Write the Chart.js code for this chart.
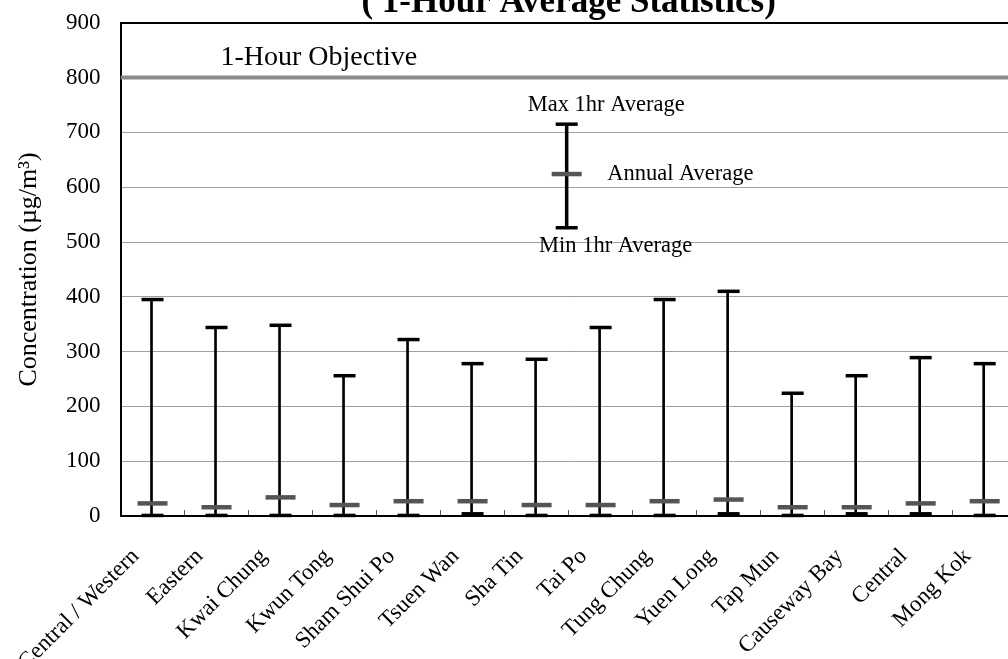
<!DOCTYPE html>
<html>
<head>
<meta charset="utf-8">
<title>1-Hour Average Statistics</title>
<style>
  html, body { margin: 0; padding: 0; width: 1008px; height: 659px; overflow: hidden; background: #fff; }
  #wrap { position: absolute; left: 0; top: -30px; width: 1040px; height: 720px; }
</style>
<script src="https://cdn.jsdelivr.net/npm/chart.js@4.4.1/dist/chart.umd.min.js"></script>
</head>
<body>
<div id="wrap"><canvas id="chart"></canvas></div>
<script>
const STATIONS = [
  "Central / Western", "Eastern", "Kwai Chung", "Kwun Tong", "Sham Shui Po",
  "Tsuen Wan", "Sha Tin", "Tai Po", "Tung Chung", "Yuen Long",
  "Tap Mun", "Causeway Bay", "Central", "Mong Kok"
];
const MAX_1HR = [395, 344, 348, 256, 322, 278, 286, 344, 395, 410, 224, 256, 289, 278];
const ANNUAL_AVG = [23, 16, 34, 20, 27, 27, 20, 20, 27, 30, 16, 16, 23, 27];
const MIN_1HR = [1, 1, 1, 1, 1, 4, 1, 1, 1, 4, 1, 4, 4, 1];

const Y_MIN = 0;
const Y_MAX = 900;
const Y_STEP = 100;

const OBJECTIVE = 800;
const OBJECTIVE_LABEL = "1-Hour Objective";

// sample error bar used as a key, sits between Sha Tin and Tai Po
const LEGEND_X = 6.47;
const LEGEND_MAX = 715;
const LEGEND_AVG = 624;
const LEGEND_MIN = 526;

const SERIF = '"Liberation Serif", "Times New Roman", serif';
Chart.defaults.font.family = SERIF;
Chart.defaults.color = "#000";

function capStyle(color, radius, width) {
  return {
    type: "line",
    showLine: false,
    pointStyle: "line",
    pointRadius: radius,
    pointHoverRadius: radius,
    pointBorderWidth: width,
    pointHoverBorderWidth: width,
    pointBorderColor: color,
    pointBackgroundColor: color,
    clip: false
  };
}

const annotationPlugin = {
  id: "annotations",
  afterDatasetsDraw(chart) {
    const { ctx } = chart;
    const x2 = chart.scales.x2;
    const y = chart.scales.y;
    const lx = x2.getPixelForValue(LEGEND_X);

    ctx.save();
    ctx.fillStyle = "#000";
    ctx.textBaseline = "alphabetic";

    ctx.font = "28px " + SERIF;
    ctx.textAlign = "left";
    ctx.fillText(OBJECTIVE_LABEL, x2.getPixelForValue(-0.5) + 100, y.getPixelForValue(OBJECTIVE) - 12.5);

    ctx.font = "22.5px " + SERIF;
    ctx.textAlign = "center";
    ctx.fillText("Max 1hr Average", lx + 39.5, y.getPixelForValue(LEGEND_MAX) - 13.5);
    ctx.fillText("Min 1hr Average", lx + 49, y.getPixelForValue(LEGEND_MIN) + 24.5);
    ctx.textAlign = "left";
    ctx.fillText("Annual Average", lx + 40.5, y.getPixelForValue(LEGEND_AVG) + 5.5);
    ctx.restore();
  }
};

new Chart(document.getElementById("chart"), {
  type: "bar",
  data: {
    labels: STATIONS,
    datasets: [
      Object.assign(capStyle("#555555", 15, 4.5), { label: "Annual Average", data: ANNUAL_AVG, order: 0 }),
      Object.assign(capStyle("#000", 11, 3.5), { label: "Max 1hr Average", data: MAX_1HR, order: 1 }),
      Object.assign(capStyle("#000", 11, 3.5), { label: "Min 1hr Average", data: MIN_1HR, order: 1 }),
      {
        type: "bar",
        label: "Range",
        data: MIN_1HR.map((v, i) => [v, MAX_1HR[i]]),
        backgroundColor: "#000",
        barThickness: 2,
        order: 2
      },
      {
        type: "line",
        label: OBJECTIVE_LABEL,
        xAxisID: "x2",
        data: [{ x: -0.5, y: OBJECTIVE }, { x: 13.5, y: OBJECTIVE }],
        borderColor: "#8c8c8c",
        borderWidth: 4,
        pointRadius: 0,
        order: 3
      },
      {
        type: "line",
        label: "key range",
        xAxisID: "x2",
        data: [{ x: LEGEND_X, y: LEGEND_MIN }, { x: LEGEND_X, y: LEGEND_MAX }],
        borderColor: "#000",
        borderWidth: 3.5,
        pointRadius: 0,
        order: 2
      },
      Object.assign(capStyle("#000", 11, 3.5), {
        label: "key caps",
        xAxisID: "x2",
        data: [{ x: LEGEND_X, y: LEGEND_MAX }, { x: LEGEND_X, y: LEGEND_MIN }],
        order: 1
      }),
      Object.assign(capStyle("#555555", 15, 4.5), {
        label: "key average",
        xAxisID: "x2",
        data: [{ x: LEGEND_X, y: LEGEND_AVG }],
        order: 0
      })
    ]
  },
  options: {
    responsive: true,
    maintainAspectRatio: false,
    animation: false,
    layout: { padding: { left: 0, right: 23.3, top: 0, bottom: 0 } },
    plugins: {
      legend: { display: false },
      tooltip: { enabled: false },
      title: {
        display: true,
        text: "( 1-Hour Average Statistics)",
        fullSize: false,
        color: "#000",
        font: { size: 35, weight: "bold", lineHeight: 1 },
        padding: { top: 15.5, bottom: 2.3 }
      }
    },
    scales: {
      x: {
        offset: true,
        grid: {
          offset: true,
          drawOnChartArea: false,
          drawTicks: true,
          tickLength: -6,
          color: "#555",
          lineWidth: 1
        },
        border: { color: "#000", width: 2 },
        ticks: {
          autoSkip: false,
          maxRotation: 45,
          minRotation: 45,
          padding: 33,
          labelOffset: -17,
          color: "#000",
          font: { size: 23 }
        },
        afterFit(scale) { scale.height = 174; }
      },
      x2: {
        type: "linear",
        display: false,
        offset: false,
        min: -0.5,
        max: 13.5,
        grid: { offset: false }
      },
      y: {
        min: Y_MIN,
        max: Y_MAX,
        ticks: { stepSize: Y_STEP, padding: 20, color: "#000", font: { size: 23 } },
        grid: {
          drawTicks: false,
          color: (c) => (c.tick && c.tick.value === Y_MAX ? "#000" : "#a0a0a0"),
          lineWidth: (c) => (c.tick && c.tick.value === Y_MAX ? 2 : 1)
        },
        border: { color: "#000", width: 2 },
        title: {
          display: true,
          text: "Concentration (µg/m³)",
          color: "#000",
          font: { size: 26 },
          padding: { top: 14, bottom: 0 }
        },
        afterFit(scale) { scale.width = 120.5; }
      }
    }
  },
  plugins: [annotationPlugin]
});
</script>
</body>
</html>
